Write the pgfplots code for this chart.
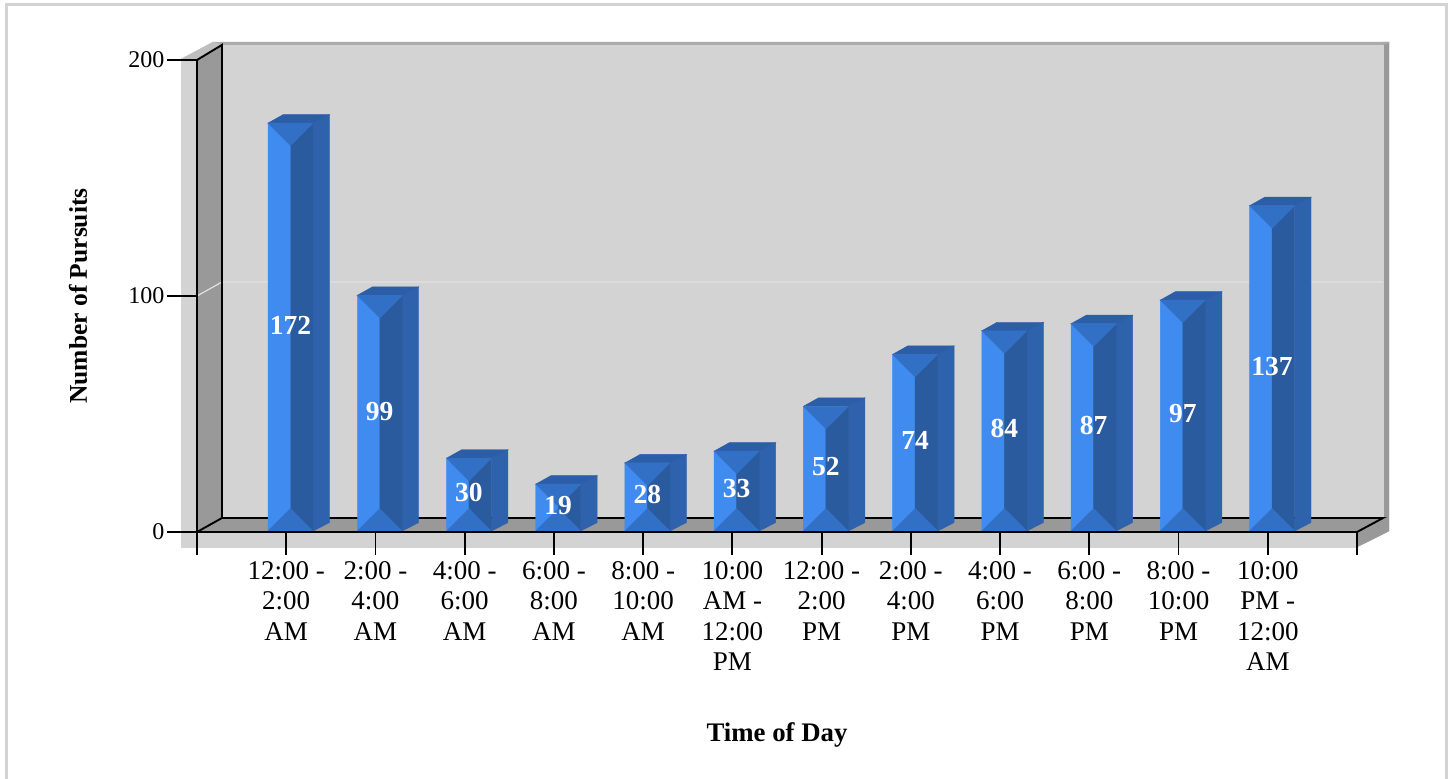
\documentclass[border=0pt]{standalone}
\usepackage{pgfplots}
\pgfplotsset{compat=1.18}
\usepackage{fontspec}
\setmainfont{Liberation Serif}
\definecolor{wallc}{HTML}{D3D3D3}
\definecolor{sidewall}{HTML}{999999}
\definecolor{toprim}{HTML}{ABABAB}
\definecolor{wedge}{HTML}{BEBEBE}
\definecolor{gridc}{HTML}{E2E2E2}
\definecolor{barlight}{HTML}{3F8BF0}
\definecolor{barmid}{HTML}{3270C6}
\definecolor{bardark}{HTML}{2A5B9F}
\definecolor{barside}{HTML}{2E62AD}
\definecolor{bartop}{HTML}{2C5EA8}
% px -> axis: x=(p-197)/89.23, y=(532-p)/2.36
\newcommand{\poly}[2]{\addplot[fill=#1,draw=#1,line width=0.4pt,mark=none,forget plot] coordinates {#2} --cycle;}
\newcommand{\threeDbar}[2]{%
  \pgfmathsetmacro\xl{#1-0.204}%
  \pgfmathsetmacro\xr{#1+0.300}%
  \pgfmathsetmacro\xm{#1+0.048}%
  \pgfmathsetmacro\xb{#1+0.485}%
  \pgfmathsetmacro\xc{#1-0.034}%
  \pgfmathsetmacro\yt{#2+1.27}%
  \pgfmathsetmacro\yb{0.4}%
  \pgfmathsetmacro\ytb{\yt+3.6}%
  \pgfmathsetmacro\ybb{\yb+3.6}%
  \pgfmathsetmacro\yat{\yt-9.53}%
  \pgfmathsetmacro\yab{\yb+9.53}%
  \pgfmathsetmacro\ylab{(\yt+\yb)/2+0.9}%
  \poly{barside}{(\xr,\yt)(\xb,\ytb)(\xb,\ybb)(\xr,\yb)}
  \poly{bartop}{(\xl,\yt)(\xc,\ytb)(\xb,\ytb)(\xr,\yt)}
  \poly{barlight}{(\xl,\yt)(\xm,\yat)(\xm,\yab)(\xl,\yb)}
  \poly{bardark}{(\xr,\yt)(\xm,\yat)(\xm,\yab)(\xr,\yb)}
  \poly{barmid}{(\xl,\yt)(\xr,\yt)(\xm,\yat)}
  \poly{barmid}{(\xl,\yb)(\xr,\yb)(\xm,\yab)}
  \addplot[draw=none,mark=none,forget plot,point meta=explicit symbolic,
    nodes near coords,
    every node near coord/.style={anchor=center,inner sep=0pt,text=white,
      font=\fontsize{27.5}{30}\selectfont\bfseries}]
    coordinates {(\xm,\ylab) [#2]};
}
\begin{document}
\begin{tikzpicture}
\useasboundingbox (-197pt,-247pt) rectangle (1255pt,532pt);
\fill[white] (-197pt,-247pt) rectangle (1255pt,532pt);
% outer frame
\draw[wallc,line width=3pt] (-190.5pt,-260pt) -- (-190.5pt,527.5pt) -- (1249.5pt,527.5pt) -- (1249.5pt,-260pt);
\begin{axis}[
  scale only axis,
  width=1160pt,height=472pt,
  xmin=0,xmax=13,ymin=0,ymax=200,
  clip=false,
  axis on top=true,
  axis lines*=left,
  axis line style={black,line width=1.9pt},
  tick style={black,line width=1.9pt},
  tick align=outside,
  major tick length=23pt,
  ytick={0,100,200},
  xtick={0,1,...,13},
  xticklabels={,{12:00 -\\2:00\\AM},{2:00 -\\4:00\\AM},{4:00 -\\6:00\\AM},{6:00 -\\8:00\\AM},{8:00 -\\10:00\\AM},{10:00\\AM -\\12:00\\PM},{12:00 -\\2:00\\PM},{2:00 -\\4:00\\PM},{4:00 -\\6:00\\PM},{6:00 -\\8:00\\PM},{8:00 -\\10:00\\PM},{10:00\\PM -\\12:00\\AM},},
  xticklabel style={align=center,font=\fontsize{27}{30.5}\selectfont,anchor=north,yshift=-3pt},
  yticklabel style={font=\fontsize{24}{28}\selectfont,/pgf/number format/assume math mode=true,xshift=-6pt},
  xlabel={Time of Day},
  ylabel={Number of Pursuits},
  xlabel style={at={(axis cs:6.5,-85.9)},anchor=center,font=\fontsize{26.8}{30}\selectfont\bfseries},
  ylabel style={at={(axis cs:-1.333,100)},anchor=center,font=\fontsize{25.5}{30}\selectfont\bfseries},
]
% box of the 3D chart
\poly{wallc}{(-0.179,-6.36)(-0.179,200.4)(13,200.4)(13,-6.36)}
\poly{sidewall}{(13,-6.36)(13.359,0.4)(13.359,207.6)(13.292,207.6)(13.292,5.93)(13,0)}
\poly{toprim}{(0.18,207.6)(13.359,207.6)(13.292,206.4)(0.28,206.4)}
\poly{wedge}{(-0.179,200.4)(0.18,207.6)(0.28,206.4)(0,200)}
\poly{wallc}{(0.28,5.93)(0.28,206.4)(13.292,206.4)(13.292,5.93)}
\poly{sidewall}{(0,0)(0,200)(0.28,206.4)(0.28,5.93)}
\poly{sidewall}{(0,0)(0.28,5.93)(13.292,5.93)(13,0)}
\draw[gridc,line width=1.2pt] (axis cs:0,100) -- (axis cs:0.28,105.93) -- (axis cs:13.292,105.93);
\draw[black,line width=1.9pt] (axis cs:0,200) -- (axis cs:0.28,206.4) -- (axis cs:0.28,5.93) -- (axis cs:0,0);
\draw[black,line width=1.9pt] (axis cs:0.28,5.93) -- (axis cs:13.292,5.93) -- (axis cs:13,0);
\draw[black,line width=1.9pt] (axis cs:-0.3363,0) -- (axis cs:-0.25,0);
\draw[black,line width=1.9pt] (axis cs:-0.3363,100) -- (axis cs:-0.25,100);
\draw[black,line width=1.9pt] (axis cs:-0.3363,200) -- (axis cs:-0.25,200);
% bars: position, value
\threeDbar{1}{172}
\threeDbar{2}{99}
\threeDbar{3}{30}
\threeDbar{4}{19}
\threeDbar{5}{28}
\threeDbar{6}{33}
\threeDbar{7}{52}
\threeDbar{8}{74}
\threeDbar{9}{84}
\threeDbar{10}{87}
\threeDbar{11}{97}
\threeDbar{12}{137}
\end{axis}
\end{tikzpicture}
\end{document}
